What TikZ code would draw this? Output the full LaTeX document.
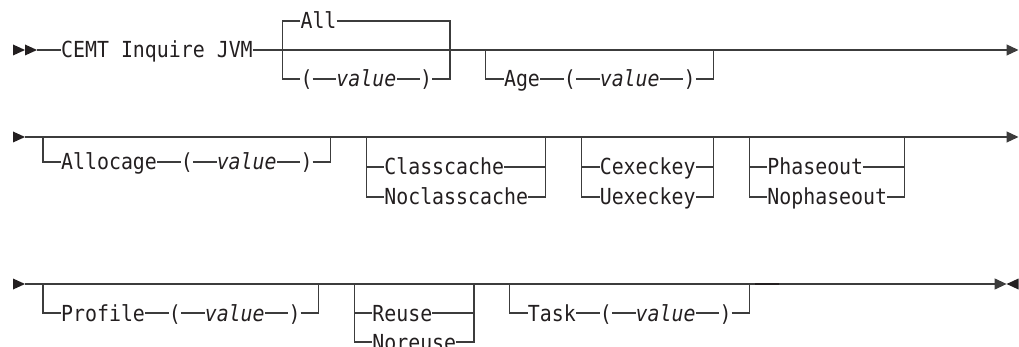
\documentclass[tikz,border=0pt]{standalone}
\usepackage{fontspec}
\setmonofont[FakeStretch=0.9]{DejaVu Sans Mono}
\usetikzlibrary{arrows.meta}
\definecolor{Ink}{HTML}{231F20}
\definecolor{Rail}{HTML}{3C3C3C}

\begin{document}
\begin{tikzpicture}[
            x=1pt, y=-1pt,
            kw/.style={
                inner sep=0pt,
                anchor=west,
                text height=16pt,
                text depth=0pt,
                font={\ttfamily\fontsize{22.1}{26}\selectfont},
                text=Ink
            },
            var/.style={
                kw,
                font={\ttfamily\itshape\fontsize{22.1}{26}\selectfont}
            },
            rail/.style={line width=1.2pt, color=Rail},
            endarrow/.style={rail, -{Triangle[length=12pt, width=11pt]}},
            tip/.style={fill=Ink}
        ]
            \useasboundingbox (0,0) rectangle (1019,347);

            % Row 1: command, All / (value), Age
            \fill[tip] (13,44.5) -- (25,50) -- (13,55.5) -- cycle;
            \fill[tip] (25,44.5) -- (37,50) -- (25,55.5) -- cycle;
            \coordinate (r1start) at (37,50);
            \coordinate (r1end) at (1018.5,50);
            \node[kw] (cemt) at (60.94,50) {CEMT Inquire JVM};

            \coordinate (allL) at (282.4,50);
            \coordinate (allR) at (449.98,50);
            \node[kw] (all) at (300.34,21) {All};
            \node[kw] (allop) at (300.34,79) {(};
            \node[var] (allval) at (336.25,79) {value};
            \node[kw] (allcp) at (420.04,79) {)};

            \coordinate (ageL) at (485.89,50);
            \coordinate (ageR) at (713.32,50);
            \node[kw] (age) at (503.83,79) {Age};
            \node[kw] (ageop) at (563.68,79) {(};
            \node[var] (ageval) at (599.59,79) {value};
            \node[kw] (agecp) at (683.38,79) {)};

            \draw[rail] (r1start) -- (cemt.west);
            \draw[endarrow] (cemt.east) -- (r1end);
            \draw[rail] (all.west) -| (allL) |- (allop.west);
            \draw[rail] (all.east) -| (allR) |- (allcp.east);
            \draw[rail] (allop.east) -- (allval.west);
            \draw[rail] (allval.east) -- (allcp.west);
            \draw[rail] (ageL) |- (age.west);
            \draw[rail] (age.east) -- (ageop.west);
            \draw[rail] (ageop.east) -- (ageval.west);
            \draw[rail] (ageval.east) -- (agecp.west);
            \draw[rail] (agecp.east) -| (ageR);

            % Row 2: Allocage, Classcache, Cexeckey, Phaseout
            \fill[tip] (13,131.5) -- (25,137) -- (13,142.5) -- cycle;
            \coordinate (r2start) at (25,137);
            \coordinate (r2end) at (1018.5,137);

            \coordinate (allocL) at (43,137);
            \coordinate (allocR) at (330.28,137);
            \node[kw] (alloc) at (60.94,162) {Allocage};
            \node[kw] (allocop) at (180.64,162) {(};
            \node[var] (allocval) at (216.55,162) {value};
            \node[kw] (alloccp) at (300.34,162) {)};

            \coordinate (ccL) at (366.19,137);
            \coordinate (ccR) at (545.74,137);
            \node[kw] (cc) at (384.13,167) {Classcache};
            \node[kw] (ncc) at (384.13,197) {Noclasscache};

            \coordinate (ckL) at (581.65,137);
            \coordinate (ckR) at (713.32,137);
            \node[kw] (cek) at (599.59,167) {Cexeckey};
            \node[kw] (uek) at (599.59,197) {Uexeckey};

            \coordinate (poL) at (749.23,137);
            \coordinate (poR) at (904.84,137);
            \node[kw] (po) at (767.17,167) {Phaseout};
            \node[kw] (npo) at (767.17,197) {Nophaseout};

            \draw[endarrow] (r2start) -- (r2end);
            \draw[rail] (allocL) |- (alloc.west);
            \draw[rail] (alloc.east) -- (allocop.west);
            \draw[rail] (allocop.east) -- (allocval.west);
            \draw[rail] (allocval.east) -- (alloccp.west);
            \draw[rail] (alloccp.east) -| (allocR);
            \draw[rail] (ccL) |- (cc.west);
            \draw[rail] (ccL) |- (ncc.west);
            \draw[rail] (cc.east) -| (ccR);
            \draw[rail] (ncc.east) -| (ccR);
            \draw[rail] (ckL) |- (cek.west);
            \draw[rail] (ckL) |- (uek.west);
            \draw[rail] (cek.east) -| (ckR);
            \draw[rail] (uek.east) -| (ckR);
            \draw[rail] (poL) |- (po.west);
            \draw[rail] (poL) |- (npo.west);
            \draw[rail] (po.east) -| (poR);
            \draw[rail] (npo.east) -| (poR);

            % Row 3: Profile, Reuse, Task, end of statement
            \fill[tip] (13,278.5) -- (25,284) -- (13,289.5) -- cycle;
            \fill[tip] (1018.5,278.5) -- (1006.6,284) -- (1018.5,289.5) -- cycle;
            \coordinate (r3start) at (25,284);
            \coordinate (r3end) at (1006.6,284);

            \coordinate (prL) at (43,284);
            \coordinate (prR) at (318.31,284);
            \node[kw] (pr) at (60.94,313) {Profile};
            \node[kw] (prop) at (168.67,313) {(};
            \node[var] (prval) at (204.58,313) {value};
            \node[kw] (prcp) at (288.37,313) {)};

            \coordinate (ruL) at (354.22,284);
            \coordinate (ruR) at (473.92,284);
            \node[kw] (ru) at (372.16,313) {Reuse};
            \node[kw] (nru) at (372.16,342) {Noreuse};

            \coordinate (tkL) at (509.83,284);
            \coordinate (tkR) at (749.23,284);
            \node[kw] (tk) at (527.77,313) {Task};
            \node[kw] (tkop) at (599.59,313) {(};
            \node[var] (tkval) at (635.5,313) {value};
            \node[kw] (tkcp) at (719.29,313) {)};
            \coordinate (seamA) at (755.2,284);
            \coordinate (seamB) at (779.14,284);

            \draw[endarrow] (r3start) -- (r3end);
            \draw[rail, line width=1.7pt, color=Ink] (seamA) -- (seamB);
            \draw[rail] (prL) |- (pr.west);
            \draw[rail] (pr.east) -- (prop.west);
            \draw[rail] (prop.east) -- (prval.west);
            \draw[rail] (prval.east) -- (prcp.west);
            \draw[rail] (prcp.east) -| (prR);
            \draw[rail] (ruL) |- (ru.west);
            \draw[rail] (ruL) |- (nru.west);
            \draw[rail] (ru.east) -| (ruR);
            \draw[rail] (nru.east) -| (ruR);
            \draw[rail] (tkL) |- (tk.west);
            \draw[rail] (tk.east) -- (tkop.west);
            \draw[rail] (tkop.east) -- (tkval.west);
            \draw[rail] (tkval.east) -- (tkcp.west);
            \draw[rail] (tkcp.east) -| (tkR);
        \end{tikzpicture}
\end{document}
